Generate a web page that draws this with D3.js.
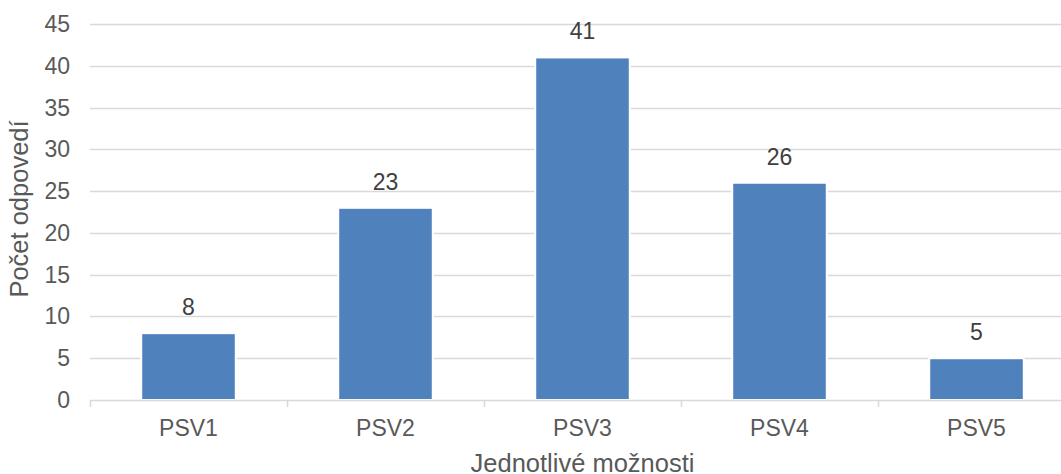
<!DOCTYPE html>
<html>
<head>
<meta charset="utf-8">
<script src="https://cdn.jsdelivr.net/npm/d3@7"></script>
<style>
  html, body { margin: 0; padding: 0; background: #fff; }
  svg { display: block; font-family: "Liberation Sans", Arial, sans-serif; }
</style>
</head>
<body>
<svg id="chart" width="1061" height="474"></svg>
<script>
// Responses per option
const categories = ["PSV1", "PSV2", "PSV3", "PSV4", "PSV5"];
const values = [8, 23, 41, 26, 5];
const yTicks = [0, 5, 10, 15, 20, 25, 30, 35, 40, 45];
const xTitle = "Jednotlivé možnosti";
const yTitle = "Počet odpovedí";

const svg = d3.select("#chart");
const margin = { left: 90, top: 24, bottom: 74 };
const plotRight = 1075;
const plotBottom = 474 - margin.bottom;

const x = d3.scaleBand()
  .domain(categories)
  .range([margin.left, plotRight])
  .paddingInner(0.52)
  .paddingOuter(0.26);

const y = d3.scaleLinear()
  .domain([0, 45])
  .range([plotBottom, margin.top]);

const textColor = "#595959";
const labelSize = "23px";
const titleSize = "25.5px";

// Horizontal gridlines
svg.append("g")
  .selectAll("line")
  .data(yTicks.filter(d => d > 0))
  .join("line")
  .attr("x1", margin.left)
  .attr("x2", plotRight)
  .attr("y1", d => Math.round(y(d)) + 0.5)
  .attr("y2", d => Math.round(y(d)) + 0.5)
  .attr("stroke", "#d9d9d9")
  .attr("stroke-width", 1.5);

// Y tick labels
svg.append("g")
  .selectAll("text")
  .data(yTicks)
  .join("text")
  .attr("x", 70)
  .attr("y", d => y(d))
  .attr("dy", "0.35em")
  .attr("text-anchor", "end")
  .attr("fill", textColor)
  .style("font-size", labelSize)
  .text(d => d);

// Bars
svg.append("g")
  .selectAll("rect")
  .data(values)
  .join("rect")
  .attr("x", (d, i) => x(categories[i]))
  .attr("y", d => y(d))
  .attr("width", x.bandwidth())
  .attr("height", d => plotBottom - y(d))
  .attr("fill", "#4f81bd")
  .attr("stroke", "#fff")
  .attr("stroke-width", 2);

// Category axis line and ticks
const axisG = svg.append("g");
axisG.append("line")
  .attr("x1", margin.left)
  .attr("x2", plotRight)
  .attr("y1", plotBottom + 0.5)
  .attr("y2", plotBottom + 0.5)
  .attr("stroke", "#d9d9d9")
  .attr("stroke-width", 1.5);

const step = x.step();
const boundaries = d3.range(categories.length + 1).map(i => margin.left + i * step);
axisG.selectAll("line.tick")
  .data(boundaries)
  .join("line")
  .attr("class", "tick")
  .attr("x1", d => Math.round(d) + 0.5)
  .attr("x2", d => Math.round(d) + 0.5)
  .attr("y1", plotBottom)
  .attr("y2", plotBottom + 7)
  .attr("stroke", "#d9d9d9")
  .attr("stroke-width", 1.5);

// Category labels
svg.append("g")
  .selectAll("text")
  .data(categories)
  .join("text")
  .attr("x", d => x(d) + x.bandwidth() / 2)
  .attr("y", plotBottom + 36)
  .attr("text-anchor", "middle")
  .attr("fill", textColor)
  .style("font-size", labelSize)
  .text(d => d);

// Value labels
svg.append("g")
  .selectAll("text")
  .data(values)
  .join("text")
  .attr("x", (d, i) => x(categories[i]) + x.bandwidth() / 2)
  .attr("y", d => y(d) - 18)
  .attr("text-anchor", "middle")
  .attr("fill", "#404040")
  .style("font-size", labelSize)
  .text(d => d);

// Axis titles
svg.append("text")
  .attr("x", (margin.left + plotRight) / 2)
  .attr("y", 472)
  .attr("text-anchor", "middle")
  .attr("fill", textColor)
  .style("font-size", titleSize)
  .text(xTitle);

svg.append("text")
  .attr("transform", `translate(28, ${(margin.top + plotBottom) / 2 - 3}) rotate(-90)`)
  .attr("text-anchor", "middle")
  .attr("fill", textColor)
  .style("font-size", titleSize)
  .text(yTitle);
</script>
</body>
</html>
